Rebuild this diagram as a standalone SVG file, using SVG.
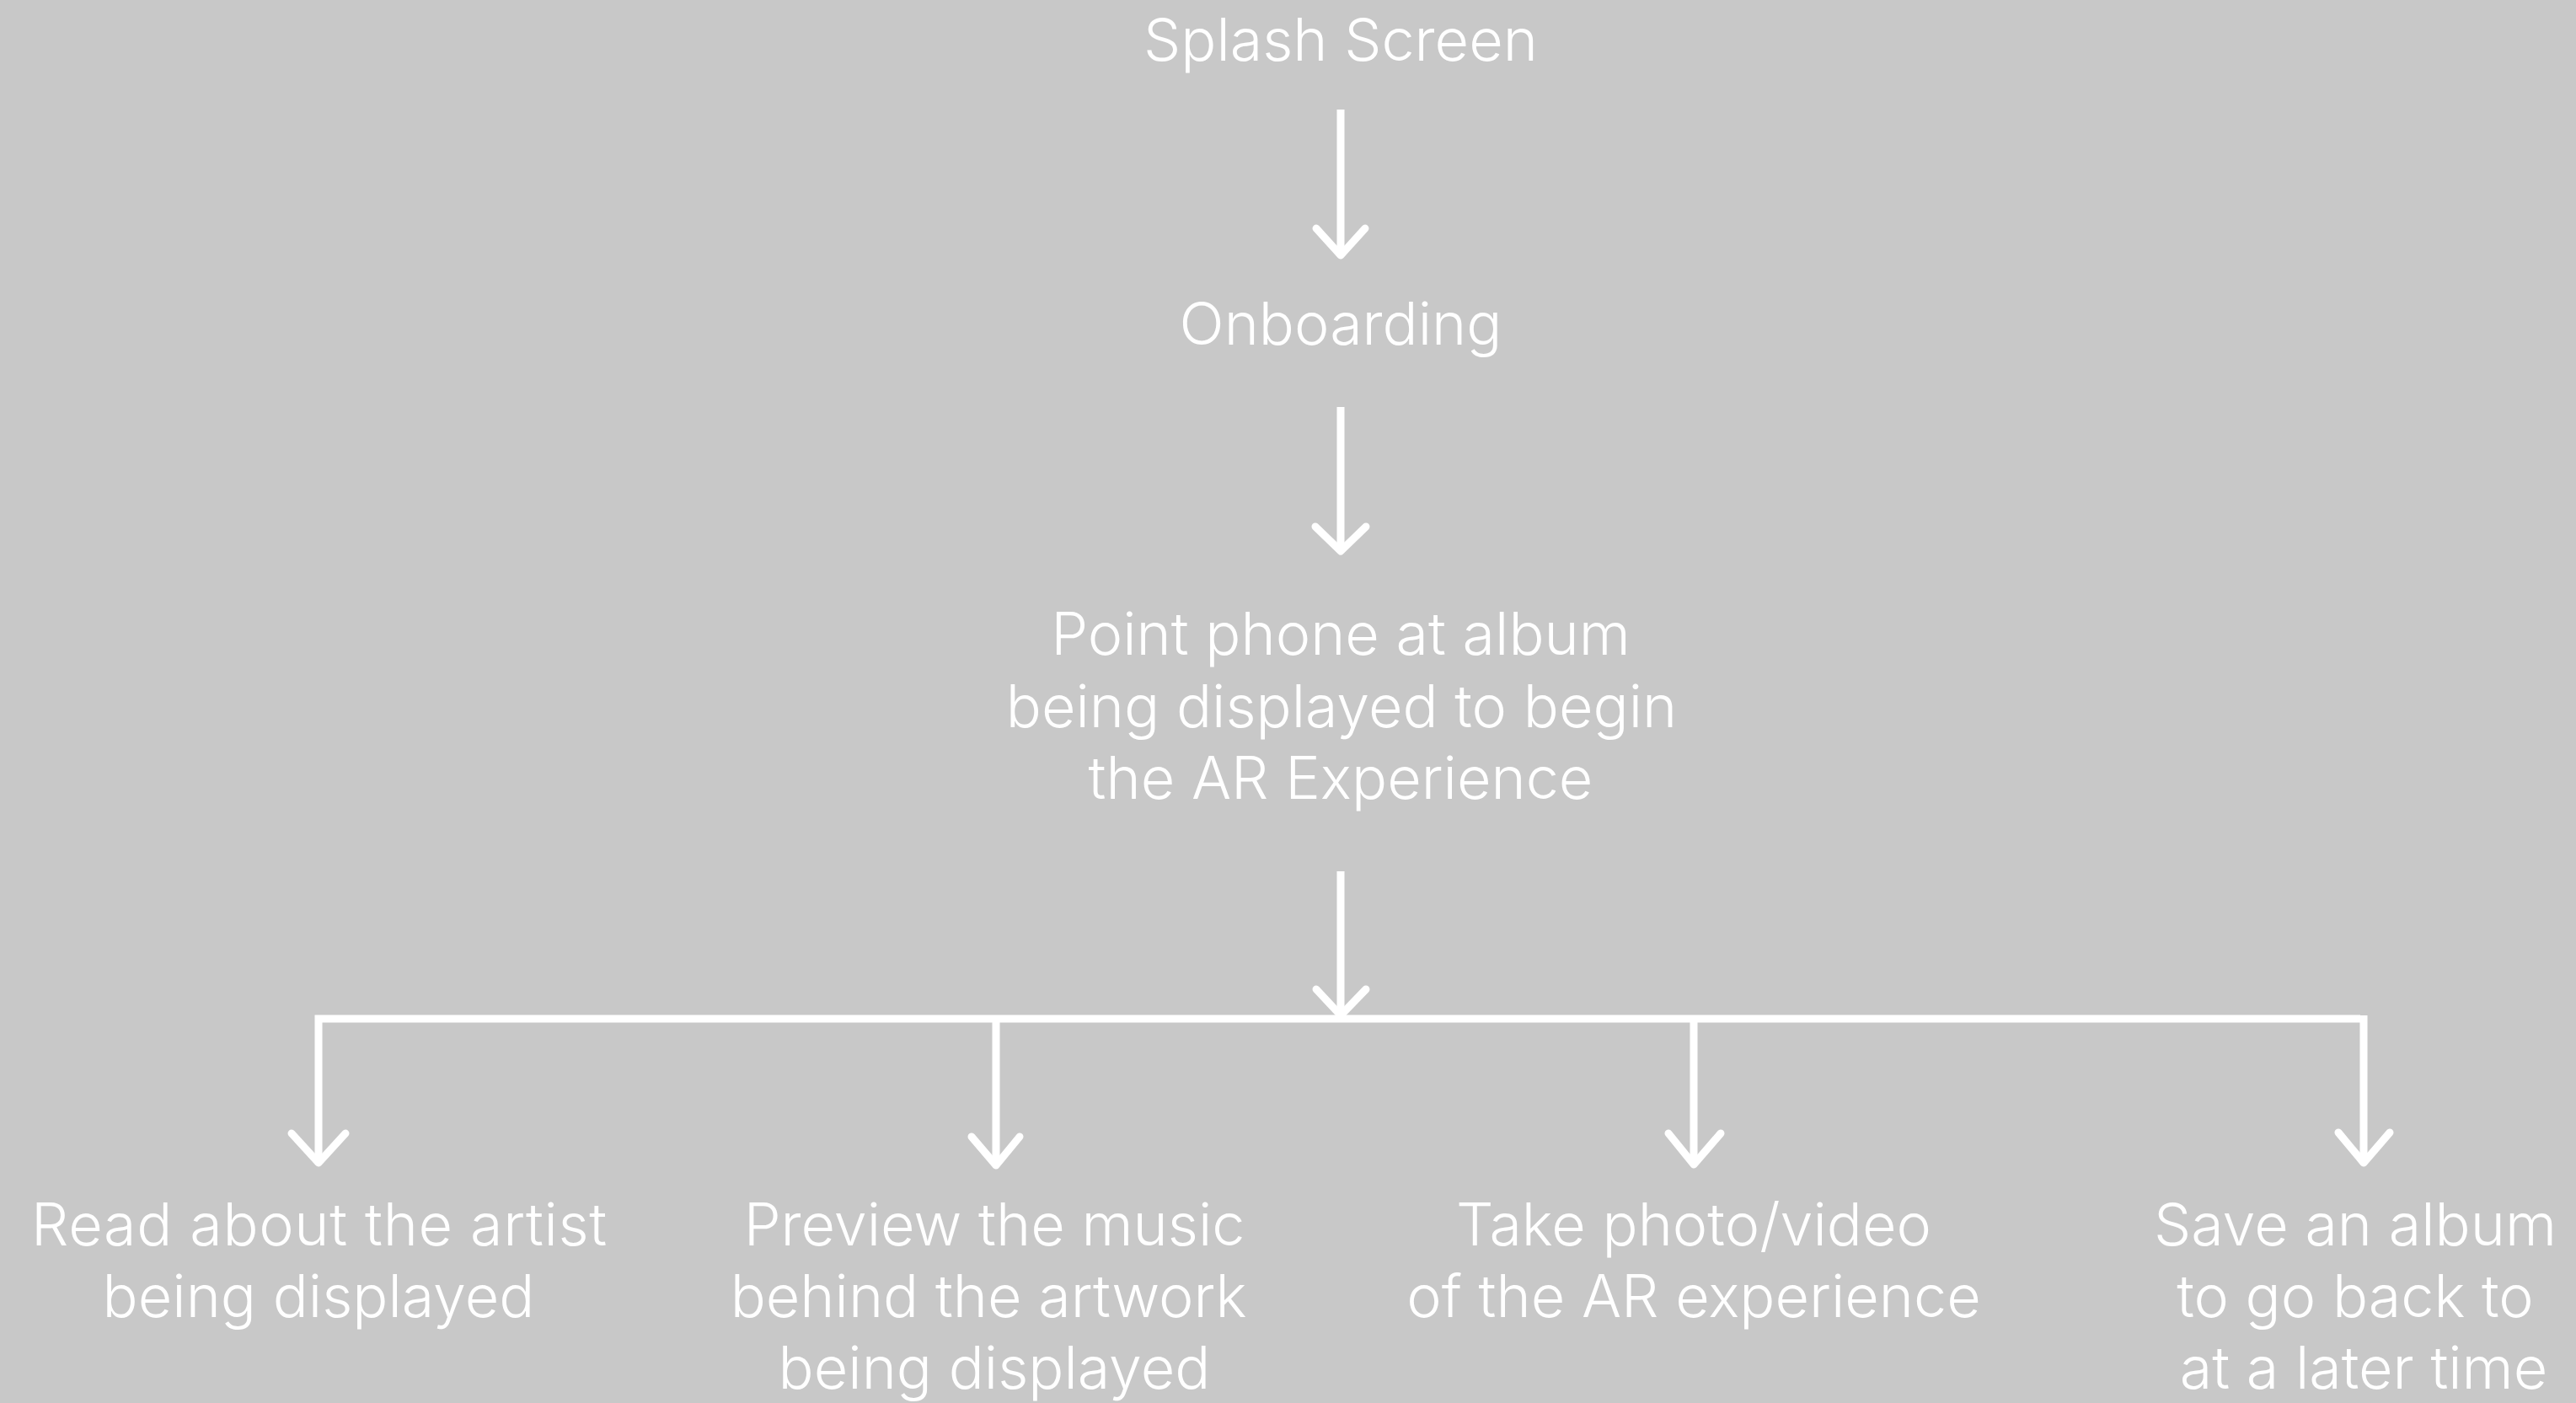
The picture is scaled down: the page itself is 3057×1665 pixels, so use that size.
<svg xmlns="http://www.w3.org/2000/svg" width="3057" height="1665" viewBox="0 0 3057 1665">
<style>
.t{font-family:Inter,"Liberation Sans",sans-serif;font-size:70px;fill:#ffffff;text-anchor:middle;font-weight:300}
.ln{stroke:#ffffff;stroke-width:9;fill:none;stroke-linecap:butt}
.hd{stroke:#ffffff;stroke-width:9;fill:none;stroke-linecap:round;stroke-linejoin:round}
</style>
<rect width="3057" height="1665" fill="#c8c8c8"/>
<g id="splash"><text class="t" x="1591" y="72">Splash Screen</text></g>
<g id="onboarding"><text class="t" x="1591" y="409">Onboarding</text></g>
<g id="point"><text class="t" x="1591" y="777">Point phone at album</text><text class="t" x="1592" y="863">being displayed to begin</text><text class="t" x="1591" y="948">the AR Experience</text></g>
<g id="read"><text class="t" x="379" y="1478" letter-spacing="0.65">Read about the artist</text><text class="t" x="378" y="1563">being displayed</text></g>
<g id="preview"><text class="t" x="1180" y="1478">Preview the music</text><text class="t" x="1173" y="1563">behind the artwork</text><text class="t" x="1180" y="1648">being displayed</text></g>
<g id="photo"><text class="t" x="2010" y="1478">Take photo/video</text><text class="t" x="2010" y="1563">of the AR experience</text></g>
<g id="save"><text class="t" x="2795" y="1478">Save an album</text><text class="t" x="2795" y="1563">to go back to</text><text class="t" x="2805" y="1648">at a later time</text></g>
<g id="connectors">
<line class="ln" x1="1591" y1="130" x2="1591" y2="303"/>
<polyline class="hd" points="1562,271 1591,303 1620,271"/>
<line class="ln" x1="1591" y1="483" x2="1591" y2="654"/>
<polyline class="hd" points="1561,625 1591,654 1621,625"/>
<line class="ln" x1="1591" y1="1034" x2="1591" y2="1205"/>
<polyline class="hd" points="1562,1174 1591,1205 1621,1174"/>
<polyline class="ln" points="378,1380 378,1209 2801,1209"/>
<polyline class="hd" points="346,1345 378,1380 410,1345"/>
<line class="ln" x1="1182" y1="1209" x2="1182" y2="1383"/>
<polyline class="hd" points="1153,1349 1182,1383 1210,1349"/>
<line class="ln" x1="2010" y1="1209" x2="2010" y2="1382"/>
<polyline class="hd" points="1980,1345 2010,1382 2042,1345"/>
<line class="ln" x1="2805" y1="1205" x2="2805" y2="1380"/>
<polyline class="hd" points="2775,1344 2805,1380 2836,1344"/>
</g>
</svg>
